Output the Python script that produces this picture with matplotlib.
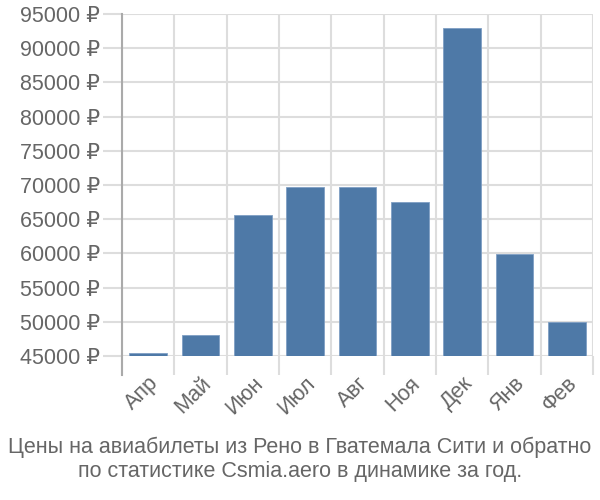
import matplotlib

matplotlib.use("Agg")
import matplotlib.pyplot as plt
import numpy as np

months = ["Апр", "Май", "Июн", "Июл", "Авг", "Ноя", "Дек", "Янв", "Фев"]
prices = [45400, 48100, 65600, 69700, 69700, 67550, 92900, 59850, 49900]
y_ticks = list(range(45000, 95001, 5000))
caption = ("Цены на авиабилеты из Рено в Гватемала Сити и обратно\n"
           "по статистике Csmia.aero в динамике за год.")

base = 45000
fam = ["Liberation Sans", "DejaVu Sans"]

fig = plt.figure(figsize=(6, 5), dpi=100)
ax = fig.add_axes([0.2033, 0.288, 0.785, 0.684])

x = np.arange(len(months))
heights = np.array(prices) - base
ax.bar(x, heights, bottom=base, width=0.72, color="#4e79a7",
       edgecolor="#7f9fc4", linewidth=0.6, zorder=3)

ax.set_xlim(-0.5, len(months) - 0.5)
ax.set_ylim(base, 95000)

# grid lines at category boundaries, labels at centres
ax.set_xticks(np.arange(len(months) + 1) - 0.5)
ax.set_xticklabels([])
ax.set_xticks(x, minor=True)
ax.set_xticklabels(months, minor=True, rotation=45, ha="right",
                   rotation_mode="anchor", fontsize=15.5, color="#666666",
                   family=fam)
ax.tick_params(axis="x", which="major", length=14, width=1.5,
               color="#dddddd")
ax.tick_params(axis="x", which="minor", length=0, pad=12)

ax.set_yticks(y_ticks)
ax.set_yticklabels([f"{v} ₽" for v in y_ticks], fontsize=15.5,
                   color="#666666", family=fam)
ax.tick_params(axis="y", length=14, width=1.5, color="#dddddd", pad=2)

ax.grid(True, which="major", color="#dddddd", linewidth=1.5, zorder=0)
for side in ("top", "right", "bottom"):
    ax.spines[side].set_visible(False)
ax.spines["left"].set_color("#aaaaaa")
ax.spines["left"].set_linewidth(1.5)
ax.spines["left"].set_bounds(base - 2800, 95000)

fig.text(0.5, 0.081, caption, ha="center", va="center", fontsize=15.5,
         color="#666666", linespacing=1.2, family=fam)

fig.savefig("out.png", dpi=100)
